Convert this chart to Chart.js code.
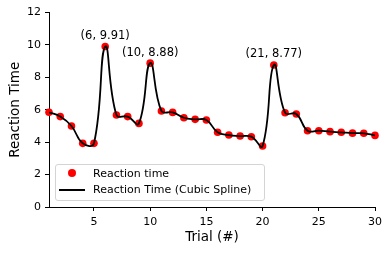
<!DOCTYPE html>
<html>
<head>
<meta charset="utf-8">
<script src="https://cdn.jsdelivr.net/npm/chart.js@4/dist/chart.umd.min.js"></script>
<style>
  html, body { margin: 0; padding: 0; background: #fff; overflow: hidden; }
  #wrap { position: relative; width: 391px; height: 253px; }
  #legend { position: absolute; left: 55px; top: 164px; width: 210px; height: 37px; box-sizing: border-box;
    border: 1px solid #d4d4d4; border-radius: 3px; background: rgba(255,255,255,0.8);
    font-family: "DejaVu Sans", sans-serif; font-size: 11px; color: #000; }
  .item { position: absolute; left: 0; height: 14px; line-height: 14px; white-space: nowrap; }
  .item span.t { position: absolute; left: 37px; top: 0; }
  .dot { position: absolute; left: 12px; top: 2.5px; width: 8px; height: 8px; border-radius: 50%; background: #ff0000; }
  .ln { position: absolute; left: 3px; top: 6px; width: 26px; height: 2px; background: #000; }
</style>
</head>
<body>
<div id="wrap">
  <canvas id="c" width="391" height="253"></canvas>
  <div id="legend"></div>
</div>
<script>
// ---- data ----
const trials = [1,2,3,4,5,6,7,8,9,10,11,12,13,14,15,16,17,18,19,20,21,22,23,24,25,26,27,28,29,30];
const reactionTimes = [5.85,5.58,5.00,3.93,3.93,9.91,5.68,5.58,5.16,8.88,5.93,5.84,5.51,5.41,5.37,4.61,4.44,4.38,4.34,3.77,8.77,5.82,5.74,4.71,4.71,4.65,4.61,4.56,4.55,4.42];
const annotatedTrials = [6, 10, 21];
const xTickValues = [5, 10, 15, 20, 25, 30];
const yTickValues = [0, 2, 4, 6, 8, 10, 12];
const seriesLabels = ["Reaction time", "Reaction Time (Cubic Spline)"];
const axisTitles = { x: "Trial (#)", y: "Reaction Time" };

const FONT = "DejaVu Sans";
const points = trials.map((t, i) => ({ x: t, y: reactionTimes[i] }));

const annotatePlugin = {
  id: 'annot',
  afterDatasetsDraw(chart) {
    const ctx = chart.ctx, xs = chart.scales.x, ys = chart.scales.y;
    ctx.save();
    ctx.font = "11.5px '" + FONT + "'";
    ctx.fillStyle = "#000";
    ctx.textAlign = "center";
    ctx.textBaseline = "middle";
    annotatedTrials.forEach(t => {
      const v = reactionTimes[trials.indexOf(t)];
      ctx.fillText("(" + t + ", " + v.toFixed(2) + ")", xs.getPixelForValue(t), ys.getPixelForValue(v) - 10.5);
    });
    ctx.restore();
  }
};

new Chart(document.getElementById('c'), {
  type: 'scatter',
  data: {
    datasets: [
      { label: seriesLabels[1], data: points, showLine: true, borderColor: '#000', borderWidth: 1.8,
        pointRadius: 0, tension: 0.45, fill: false, order: 0 },
      { label: seriesLabels[0], data: points, backgroundColor: '#ff0000', borderColor: '#ff0000',
        pointRadius: 3.8, borderWidth: 0, clip: false, order: 1 }
    ]
  },
  options: {
    responsive: false,
    animation: false,
    layout: { padding: { left: 0, right: 16, top: 12.6, bottom: 0 } },
    plugins: { legend: { display: false }, tooltip: { enabled: false } },
    scales: {
      x: {
        type: 'linear', min: 1, max: 30,
        afterBuildTicks: s => { s.ticks = xTickValues.map(v => ({ value: v })); },
        afterFit: s => { s.height = 46; },
        grid: { display: true, drawOnChartArea: false, drawTicks: true, tickLength: 4, color: '#000' },
        border: { display: true, color: '#000', width: 1 },
        ticks: { color: '#000', font: { family: FONT, size: 11 }, padding: 5, maxRotation: 0 },
        title: { display: true, text: axisTitles.x, color: '#000', font: { family: FONT, size: 13.5 }, padding: { top: 0, bottom: 7 } }
      },
      y: {
        type: 'linear', min: 0, max: 12,
        afterBuildTicks: s => { s.ticks = yTickValues.map(v => ({ value: v })); },
        afterFit: s => { s.width = 49; },
        grid: { display: true, drawOnChartArea: false, drawTicks: true, tickLength: 4, color: '#000' },
        border: { display: true, color: '#000', width: 1 },
        ticks: { color: '#000', font: { family: FONT, size: 11 }, padding: 4 },
        title: { display: true, text: axisTitles.y, color: '#000', font: { family: FONT, size: 13.5 }, padding: { top: 7, bottom: 0 } }
      }
    }
  },
  plugins: [annotatePlugin]
});

// HTML legend built from the series labels
const lg = document.getElementById('legend');
lg.innerHTML =
  '<div class="item" style="top:1.5px;width:100%"><div class="dot"></div><span class="t">' + seriesLabels[0] + '</span></div>' +
  '<div class="item" style="top:18px;width:100%"><div class="ln"></div><span class="t">' + seriesLabels[1] + '</span></div>';
</script>
</body>
</html>
